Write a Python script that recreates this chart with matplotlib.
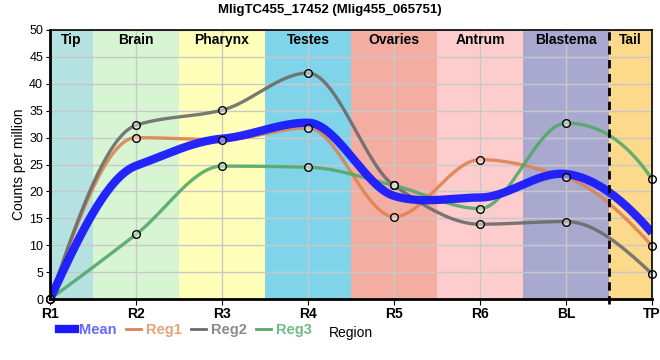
import matplotlib
matplotlib.use("Agg")
import matplotlib.pyplot as plt
from matplotlib.lines import Line2D
import numpy as np

plt.rcParams["font.family"] = ["Liberation Sans", "DejaVu Sans"]

regions = ["R1", "R2", "R3", "R4", "R5", "R6", "BL", "TP"]
bands = ["Tip", "Brain", "Pharynx", "Testes", "Ovaries", "Antrum", "Blastema", "Tail"]
band_edges = [0, 0.5, 1.5, 2.5, 3.5, 4.5, 5.5, 6.5, 7]
band_colors = ["#b3e2e0", "#d7f5d3", "#ffffb9", "#80d4ea", "#f4ada1", "#fdcccc", "#a9a9d0", "#fdd98b"]

reg1 = [0, 30.0, 29.6, 31.8, 15.3, 25.9, 22.6, 9.9]
reg2 = [0, 32.3, 35.1, 42.0, 21.1, 13.9, 14.4, 4.7]
reg3 = [0, 12.0, 24.7, 24.5, 21.1, 16.8, 32.7, 22.3]


def pchip(y, n=60):
    # monotone cubic hermite, just for a smooth line through the points
    y = np.asarray(y, float)
    x = np.arange(len(y), dtype=float)
    d = np.diff(y)
    m = np.zeros_like(y)
    for i in range(1, len(y) - 1):
        if d[i - 1] * d[i] > 0:
            m[i] = 2 * d[i - 1] * d[i] / (d[i - 1] + d[i])
    m[0] = (3 * d[0] - d[1]) / 2
    if np.sign(m[0]) != np.sign(d[0]):
        m[0] = 0
    m[-1] = (3 * d[-1] - d[-2]) / 2
    if np.sign(m[-1]) != np.sign(d[-1]):
        m[-1] = 0
    xs, ys = [], []
    for i in range(len(y) - 1):
        t = np.linspace(0, 1, n, endpoint=(i == len(y) - 2))
        h00 = 2 * t**3 - 3 * t**2 + 1
        h10 = t**3 - 2 * t**2 + t
        h01 = -2 * t**3 + 3 * t**2
        h11 = t**3 - t**2
        xs.append(x[i] + t)
        ys.append(h00 * y[i] + h10 * m[i] + h01 * y[i + 1] + h11 * m[i + 1])
    return np.concatenate(xs), np.concatenate(ys)


fig = plt.figure(figsize=(6.6, 3.6), dpi=100)
ax = fig.add_axes([0.0758, 0.1694, 0.912, 0.7473])

for i, b in enumerate(bands):
    ax.axvspan(band_edges[i], band_edges[i + 1], color=band_colors[i], lw=0, zorder=0)
    ax.text((band_edges[i] + band_edges[i + 1]) / 2, 48.2, b, ha="center", va="center",
            fontsize=10, fontweight="bold", zorder=5)
ax.axvline(6.5, color="black", ls=(0, (3, 2)), lw=2, zorder=4, clip_on=False, ymin=-0.02)

x = np.arange(len(regions))
curves = []
for vals, col in [(reg1, "#dd8452"), (reg2, "#6b6b6b"), (reg3, "#55a868")]:
    xs, ys = pchip(vals)
    curves.append(ys)
    ax.plot(xs, ys, color=col, lw=2.4, alpha=0.9, zorder=3, solid_capstyle="butt")
mean = np.mean(curves, axis=0)
ax.plot(xs, mean, color="#1a1aff", lw=6, alpha=0.95, zorder=3.5, solid_capstyle="butt")
for vals in [reg1, reg2, reg3]:
    ax.plot(x, vals, "o", ms=5.5, mfc=(1, 1, 1, 0.45), mec="black", mew=1, zorder=6, clip_on=False)

ax.set_xlim(0, 7)
ax.set_ylim(0, 50)
ax.set_xticks(x)
ax.set_xticklabels(regions, fontweight="bold", fontsize=10)
ax.set_yticks(range(0, 51, 5))
ax.tick_params(axis="y", labelsize=9, length=3, pad=2)
ax.tick_params(axis="x", length=4, pad=2)
ax.grid(True, color="#c8c8c8", lw=1, zorder=1)
ax.set_axisbelow(False)
for g in ax.get_xgridlines() + ax.get_ygridlines():
    g.set_zorder(1)
for s in ["left", "bottom"]:
    ax.spines[s].set_linewidth(2)
ax.spines["top"].set_linewidth(1.2)
ax.spines["right"].set_linewidth(1.2)
for s in ax.spines.values():
    s.set_zorder(7)

ax.set_ylabel("Counts per million", fontsize=10, labelpad=2)
ax.set_xlabel("Region", fontsize=10, labelpad=3)
fig.suptitle("MligTC455_17452 (Mlig455_065751)", fontsize=9.5, fontweight="bold", y=0.99)

handles = [Line2D([], [], color="#1a1aff", lw=6),
           Line2D([], [], color="#dd8452", lw=2),
           Line2D([], [], color="#6b6b6b", lw=2),
           Line2D([], [], color="#55a868", lw=2)]
leg = fig.legend(handles, ["Mean", "Reg1", "Reg2", "Reg3"], ncol=4, frameon=False,
                 loc="center left", bbox_to_anchor=(0.07, 0.083), fontsize=10.5,
                 handlelength=1.05, handletextpad=0.3, columnspacing=0.65)
for t, c in zip(leg.get_texts(), ["#6a6aff", "#e8a277", "#8a8a8a", "#6fbb83"]):
    t.set_color(c)
    t.set_fontweight("bold")

fig.savefig("out.png", dpi=100)
